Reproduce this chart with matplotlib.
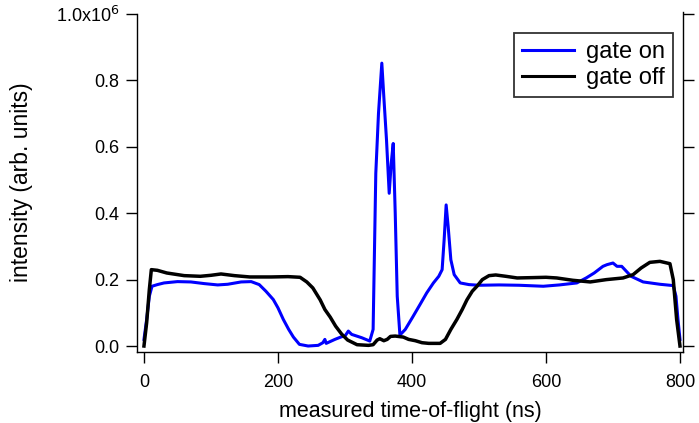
import matplotlib
matplotlib.use("Agg")
import matplotlib.pyplot as plt
from matplotlib.ticker import FixedLocator, FuncFormatter

plt.rcParams['font.family'] = ['Liberation Sans', 'DejaVu Sans']

# gate on (blue) trace, intensity in units of 1e6
on_t = [0, 4, 8, 12, 20, 30, 50, 70, 90, 110, 125, 145, 160, 172, 182, 193, 200,
        208, 216, 223, 232, 245, 260, 267, 270, 272, 285, 295, 300, 305, 310, 325,
        337, 342, 346, 350, 355, 358, 362, 366, 369, 372, 375, 378, 382, 390, 401,
        412, 422, 432, 440, 445, 448, 451, 454, 458, 463, 472, 485, 500, 530, 560,
        596, 620, 646, 660, 672, 685, 691, 700, 706, 713, 720, 727, 745, 770, 790,
        794, 797, 800]
on_i = [0.02, 0.08, 0.15, 0.18, 0.185, 0.19, 0.194, 0.193, 0.188, 0.184, 0.186,
        0.193, 0.194, 0.185, 0.165, 0.14, 0.115, 0.08, 0.05, 0.027, 0.005, 0.0,
        0.002, 0.01, 0.02, 0.008, 0.02, 0.028, 0.03, 0.045, 0.035, 0.025, 0.015,
        0.05, 0.52, 0.7, 0.852, 0.75, 0.62, 0.46, 0.55, 0.61, 0.4, 0.15, 0.033,
        0.05, 0.087, 0.125, 0.16, 0.19, 0.21, 0.23, 0.32, 0.425, 0.36, 0.26, 0.215,
        0.19, 0.185, 0.183, 0.184, 0.183, 0.18, 0.184, 0.19, 0.205, 0.22, 0.24,
        0.245, 0.25, 0.24, 0.24, 0.225, 0.21, 0.193, 0.186, 0.182, 0.15, 0.08, 0.02]

# gate off (black) trace
off_t = [0, 4, 8, 11, 20, 34, 60, 84, 100, 115, 135, 158, 190, 215, 233, 243, 252,
         263, 270, 278, 286, 295, 304, 318, 335, 342, 348, 352, 358, 363, 368, 375,
         387, 395, 405, 415, 425, 442, 450, 458, 467, 475, 482, 490, 497, 505, 515,
         525, 540, 557, 580, 600, 616, 640, 666, 690, 715, 730, 742, 755, 770, 785,
         790, 795, 800]
off_i = [0.0, 0.07, 0.17, 0.23, 0.228, 0.22, 0.212, 0.21, 0.213, 0.217, 0.212,
         0.208, 0.208, 0.209, 0.207, 0.193, 0.175, 0.139, 0.11, 0.087, 0.06, 0.036,
         0.018, 0.004, 0.002, 0.004, 0.018, 0.022, 0.016, 0.02, 0.029, 0.03, 0.027,
         0.02, 0.016, 0.01, 0.008, 0.008, 0.02, 0.05, 0.08, 0.11, 0.139, 0.165,
         0.18, 0.2, 0.212, 0.214, 0.21, 0.205, 0.206, 0.207, 0.205, 0.198, 0.193,
         0.2, 0.205, 0.215, 0.235, 0.252, 0.255, 0.248, 0.2, 0.08, 0.0]

x_ticks = [0, 200, 400, 600, 800]
y_ticks = [0.0, 0.2, 0.4, 0.6, 0.8, 1.0]

fig = plt.figure(figsize=(6.99, 4.23), dpi=100)
ax = fig.add_axes([137 / 699, 1 - 352 / 423, (683 - 137) / 699, (352 - 12) / 423])

ax.plot(on_t, on_i, color='#0000ff', lw=2.2, label='gate on')
ax.plot(off_t, off_i, color='black', lw=2.5, label='gate off')

ax.set_xlim(-10.4, 804.5)
ax.set_ylim(-0.018, 1.006)

ax.spines['top'].set_visible(False)
ax.spines['left'].set_bounds(-0.018, 1.0)
for s in ['left', 'right', 'bottom']:
    ax.spines[s].set_linewidth(1.0)

ax.xaxis.set_major_locator(FixedLocator(x_ticks))
ax.yaxis.set_major_locator(FixedLocator(y_ticks))


def ylab(v, pos):
    if abs(v - 1.0) < 1e-6:
        return r'1.0x10$^{6}$'
    return '%.1f' % v


ax.yaxis.set_major_formatter(FuncFormatter(ylab))
ax.tick_params(axis='both', direction='out', length=8, width=1.0,
               labelsize=13, pad=5)
ax.tick_params(axis='y', right=True, labelright=False)
ax.tick_params(axis='x', pad=8)

ax.set_xlabel('measured time-of-flight (ns)', fontsize=15.5, labelpad=7)
ax.set_ylabel('intensity (arb. units)', fontsize=16.5, labelpad=16)

leg = ax.legend(loc='upper right', bbox_to_anchor=(673 / 699, 1 - 33 / 423),
                bbox_transform=fig.transFigure, borderaxespad=0,
                fontsize=17, frameon=True, fancybox=False, handlelength=2.2,
                handletextpad=0.5, borderpad=0.35, labelspacing=0.15)
leg.get_frame().set_edgecolor('black')
leg.get_frame().set_linewidth(1.3)
for line in leg.get_lines():
    line.set_linewidth(2.2)

fig.savefig('out.png', dpi=100)
